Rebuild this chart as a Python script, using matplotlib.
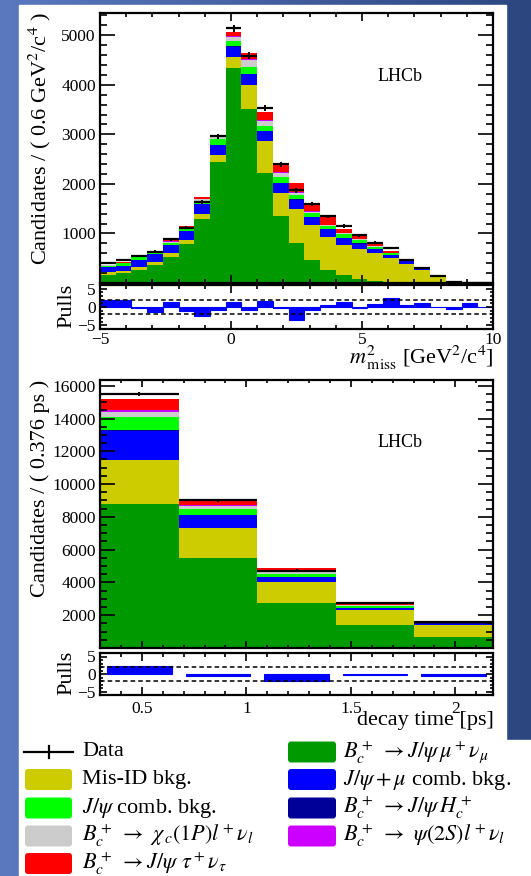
import numpy as np
import matplotlib.pyplot as plt
from matplotlib.patches import Rectangle, FancyBboxPatch
from matplotlib.colors import LinearSegmentedColormap
from matplotlib.ticker import MultipleLocator, FixedLocator

plt.rcParams['font.family'] = ['Liberation Serif', 'DejaVu Serif']
plt.rcParams['mathtext.fontset'] = 'stix'

# ---- m2_miss fit, 25 bins of 0.6 GeV^2 from -5 to 10
m2_lo, m2_hi, m2_nbins = -5.0, 10.0, 25
m2_sig = [170, 205, 265, 365, 520, 790, 1300, 2440, 4339, 3520, 2214, 1355, 798,
          460, 258, 157, 89, 50, 30, 15, 8, 3, 1, 0, 0]
m2_misid = [50, 45, 54, 67, 81, 87, 101, 145, 216, 475, 646, 454, 694,
            708, 675, 620, 594, 550, 478, 378, 250, 120, 14, 3, 1]
m2_comb_mu = [95, 92, 140, 148, 160, 174, 192, 192, 210, 218, 204, 201, 188,
              162, 148, 130, 110, 86, 64, 45, 36, 5, 2, 0, 0]
m2_hc = [4, 4, 6, 6, 8, 8, 10, 10, 13, 12, 11, 10, 8, 7, 6, 5, 5, 4, 3, 2, 1, 0, 0, 0, 0]
m2_comb_jpsi = [28, 50, 52, 32, 40, 34, 46, 120, 113, 130, 100, 127, 88,
                68, 61, 68, 66, 35, 25, 10, 5, 2, 1, 0, 0]
m2_chic = [10, 10, 10, 13, 27, 20, 38, 34, 75, 140, 100, 78, 44, 38, 26, 24, 21, 16, 12, 4, 2, 1, 0, 0, 0]
m2_psi2s = [3, 2, 2, 3, 5, 4, 8, 8, 14, 25, 18, 15, 10, 9, 6, 6, 5, 4, 3, 1, 0, 0, 0, 0, 0]
m2_tau = [12, 17, 18, 16, 45, 28, 40, 42, 85, 120, 165, 168, 180, 172, 155, 90, 88, 55, 35, 7, 3, 1, 0, 0, 0]
m2_data = [405, 465, 541, 635, 880, 1115, 1635, 2960, 5145, 4590, 3535, 2400, 1870,
           1587, 1345, 1150, 960, 810, 705, 470, 310, 137, 20, 5, 2]
m2_pulls = [2.0, 1.8, -0.4, -1.3, 1.3, -1.2, -2.5, -0.8, 1.4, -0.8, 1.6, -0.2, -3.6,
            -0.8, 0.5, 1.5, -0.3, 0.7, 2.5, 0.5, 1.1, 0.1, -0.5, 1.0, 0.1]

# ---- decay time fit, 5 bins of 0.376 ps from 0.3 ps
t_lo, t_hi, t_nbins = 0.3, 2.18, 5
t_sig = [8790, 5495, 2760, 1394, 691]
t_misid = [2684, 1840, 1262, 933, 703]
t_comb_mu = [1760, 760, 310, 134, 100]
t_hc = [56, 26, 12, 5, 3]
t_comb_jpsi = [780, 344, 183, 94, 33]
t_chic = [353, 175, 113, 60, 20]
t_psi2s = [97, 60, 40, 30, 10]
t_tau = [660, 360, 190, 50, 10]
t_data = [15480, 9020, 4727, 2720, 1600]
t_pulls = [2.3, -0.6, -2.0, -0.2, -0.5]

comp_colors = ['#009900', '#cccc00', '#0000ff', '#000099', '#00ff00', '#cccccc', '#cc00ff', '#ff0000']

legend_left = ['Data', 'Mis-ID bkg.', r'$J/\psi$ comb. bkg.',
               r'$B_c^+\ \to\ \chi_{\,c}\mathit{(1P)}l^+\nu_l$', r'$B_c^+\ \to J/\psi\ \tau^+\nu_\tau$']
legend_left_col = [None, '#cccc00', '#00ff00', '#cccccc', '#ff0000']
legend_right = [r'$B_c^+\ \to J/\psi\,\mu^+\nu_\mu$', r'$J/\psi+\mu$ comb. bkg.',
                r'$B_c^+\ \to J/\psi\,H_c^+$', r'$B_c^+\ \to\ \psi\mathit{(2S)}l^+\nu_l$']
legend_right_col = ['#009900', '#0000ff', '#000099', '#cc00ff']

W, H = 531, 876
fig = plt.figure(figsize=(W / 100, H / 100), dpi=100)

# slide background (pixel coordinates)
bg = fig.add_axes([0, 0, 1, 1])
bg.set_zorder(-1)
cmap = LinearSegmentedColormap.from_list('slide', ['#5b79bf', '#2c4680'])
bg.imshow(np.linspace(0, 1, 256).reshape(1, -1), cmap=cmap, aspect='auto', extent=[0, W, H, 0])
bg.add_patch(Rectangle((19, 5), 487, 735, color='white'))
bg.add_patch(Rectangle((19, 740), W - 19, H - 740, color='white'))
bg.set_xlim(0, W)
bg.set_ylim(H, 0)
bg.axis('off')


def box(top, bottom):
    return [100 / W, 1 - bottom / H, 393 / W, (bottom - top) / H]


def style(ax, xmaj, xmin, ymaj_len, ymin_len, xmaj_len, xmin_len):
    ax.xaxis.set_major_locator(FixedLocator(xmaj))
    ax.xaxis.set_minor_locator(MultipleLocator(xmin))
    ax.tick_params(which='both', direction='in', top=True, right=True, labelsize=12.5, width=1.2)
    ax.tick_params(axis='y', which='major', length=ymaj_len, pad=3)
    ax.tick_params(axis='y', which='minor', length=ymin_len)
    ax.tick_params(axis='x', which='major', length=xmaj_len)
    ax.tick_params(axis='x', which='minor', length=xmin_len)
    for s in ax.spines.values():
        s.set_linewidth(1.6)


def stack(ax, edges, comps, data):
    left = edges[:-1]
    width = np.diff(edges)
    bottom = np.zeros(len(left))
    for vals, c in zip(comps, comp_colors):
        vals = np.array(vals, dtype=float)
        ax.bar(left, vals, width=width, bottom=bottom, align='edge', color=c, linewidth=0)
        bottom += vals
    data = np.array(data, dtype=float)
    centers = left + width / 2
    ax.hlines(data, left, edges[1:], color='black', lw=1.6, zorder=5)
    ax.vlines(centers, data - np.sqrt(data), data + np.sqrt(data), color='black', lw=1.4, zorder=5)


def pulls(ax, edges, vals, frac):
    width = np.diff(edges)
    centers = edges[:-1] + width / 2
    ax.bar(centers, vals, width=width * frac, color='#0000ff', edgecolor='#0000ff', linewidth=0.8)
    ax.axhline(2, color='black', ls=(0, (3, 2)), lw=1.1)
    ax.axhline(-2, color='black', ls=(0, (3, 2)), lw=1.1)
    ax.set_ylim(-6, 6)
    ax.set_yticks([-5, 0, 5])
    ax.set_yticklabels(['\u22125', '0', '5'])
    ax.yaxis.set_minor_locator(MultipleLocator(1))


# ---- top: m2_miss
m2_edges = np.linspace(m2_lo, m2_hi, m2_nbins + 1)
ax1 = fig.add_axes(box(13, 283))
stack(ax1, m2_edges, [m2_sig, m2_misid, m2_comb_mu, m2_hc, m2_comb_jpsi, m2_chic, m2_psi2s, m2_tau], m2_data)
ax1.set_xlim(m2_lo, m2_hi)
ax1.set_ylim(0, 5450)
ax1.set_yticks([1000, 2000, 3000, 4000, 5000])
ax1.yaxis.set_minor_locator(MultipleLocator(200))
style(ax1, [-5, 0, 5, 10], 1, 11, 5, 6, 3)
ax1.tick_params(labelbottom=False)
ax1.text(0.763, 0.763, 'LHCb', transform=ax1.transAxes, ha='center', va='center', fontsize=13)

ax1p = fig.add_axes(box(285, 329))
pulls(ax1p, m2_edges, m2_pulls, 1.0)
ax1p.set_xlim(m2_lo, m2_hi)
style(ax1p, [-5, 0, 5, 10], 1, 5, 2.5, 6, 3)
ax1p.set_xticklabels(['\u22125', '0', '5', '10'])
ax1p.tick_params(axis='x', pad=2)

fig.text(40 / W, 1 - 12 / H, 'Candidates / ( 0.6 GeV$^2$/c$^4$ )', rotation=90,
         ha='center', va='top', fontsize=16)
fig.text(67 / W, 1 - 306 / H, 'Pulls', rotation=90, ha='center', va='center', fontsize=16)
fig.text(494 / W, 1 - 358 / H, r'$m^2_{\,\mathrm{miss}}$ [GeV$^2$/c$^4$]', ha='right', va='center', fontsize=16)

# ---- bottom: decay time
t_edges = np.linspace(t_lo, t_hi, t_nbins + 1)
ax2 = fig.add_axes(box(380, 648))
stack(ax2, t_edges, [t_sig, t_misid, t_comb_mu, t_hc, t_comb_jpsi, t_chic, t_psi2s, t_tau], t_data)
ax2.set_xlim(t_lo, t_hi)
ax2.set_ylim(0, 16350)
ax2.set_yticks(np.arange(2000, 16001, 2000))
ax2.yaxis.set_minor_locator(MultipleLocator(500))
style(ax2, [0.5, 1.0, 1.5, 2.0], 0.1, 10.5, 5, 5, 2.5)
ax2.tick_params(labelbottom=False)
ax2.text(0.763, 0.766, 'LHCb', transform=ax2.transAxes, ha='center', va='center', fontsize=13)

ax2p = fig.add_axes(box(653, 695))
pulls(ax2p, t_edges, t_pulls, 0.82)
ax2p.set_xlim(t_lo, t_hi)
style(ax2p, [0.5, 1.0, 1.5, 2.0], 0.1, 5, 2.5, 6, 3)
ax2p.set_xticklabels(['0.5', '1', '1.5', '2'])
ax2p.tick_params(axis='x', pad=4)

fig.text(40 / W, 1 - 380 / H, 'Candidates / ( 0.376 ps )', rotation=90,
         ha='center', va='top', fontsize=16)
fig.text(67 / W, 1 - 673 / H, 'Pulls', rotation=90, ha='center', va='center', fontsize=16)
fig.text(494 / W, 1 - 721 / H, 'decay time [ps]', ha='right', va='center', fontsize=16)

# ---- legend
rows = [752, 779.5, 808, 836, 863.5]
for i, (lab, col) in enumerate(zip(legend_left, legend_left_col)):
    y = rows[i]
    if col is None:
        bg.plot([24, 73], [y, y], color='black', lw=1.6)
        bg.plot([48.5, 48.5], [y - 6, y + 6], color='black', lw=1.6)
    else:
        bg.add_patch(FancyBboxPatch((25, y - 10.5), 47, 21, boxstyle='round,pad=0,rounding_size=3',
                                    facecolor=col, edgecolor='none'))
    bg.text(82, y, lab, ha='left', va='center', fontsize=16)
for i, (lab, col) in enumerate(zip(legend_right, legend_right_col)):
    y = rows[i]
    bg.add_patch(FancyBboxPatch((288, y - 10.5), 48, 21, boxstyle='round,pad=0,rounding_size=3',
                                facecolor=col, edgecolor='none'))
    bg.text(343, y, lab, ha='left', va='center', fontsize=16)

fig.savefig('out.png', dpi=100)
